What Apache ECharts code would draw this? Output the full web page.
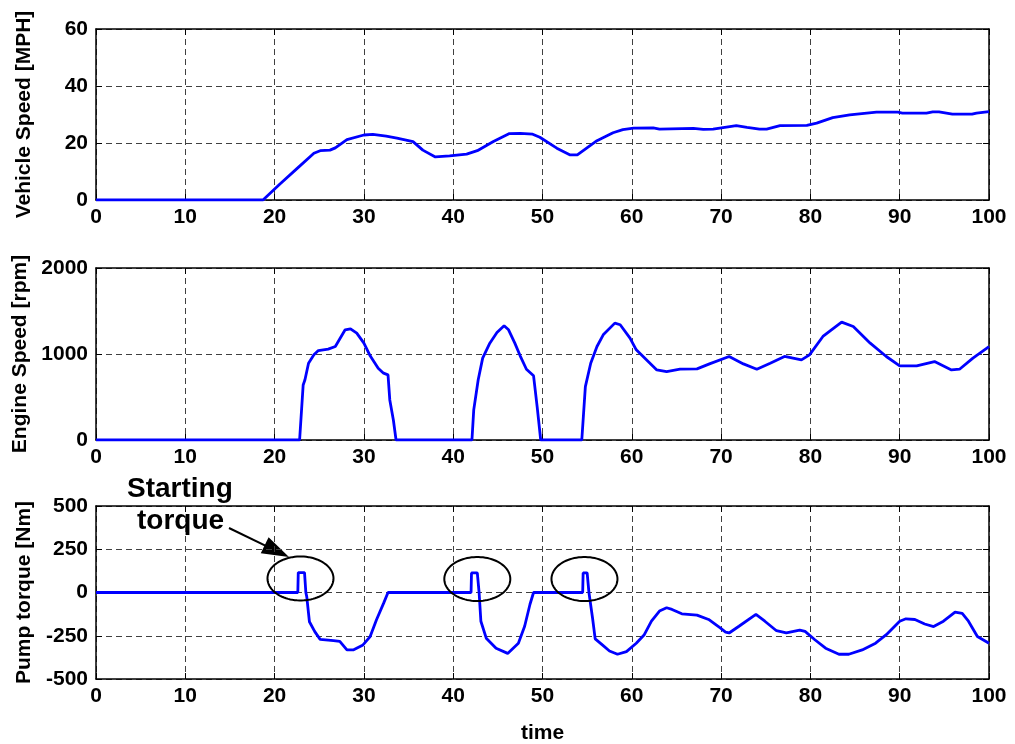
<!DOCTYPE html>
<html>
<head>
<meta charset="utf-8">
<script src="https://cdn.jsdelivr.net/npm/echarts@6/dist/echarts.min.js"></script>
<style>
  html, body { margin: 0; padding: 0; background: #fff; }
  #chart { width: 1015px; height: 744px; }
</style>
</head>
<body>
<div id="chart"></div>
<script>
// Vehicle speed [MPH] over time
const vehTime  = [0, 18.7, 20.6, 22.5, 24.4, 25.1, 26.2, 26.8, 28.1, 30, 31, 32.5, 33.7, 35.5, 36.6, 38, 39.6, 41.5, 42.7, 44.5, 46.3, 47.5, 48.9, 49.7, 51.6, 53.1, 53.9, 56.1, 57.9, 59, 60.2, 62.4, 63.1, 66.9, 68, 69.1, 70.6, 71.7, 72.9, 74.3, 75.1, 76.6, 79.6, 80.7, 82.5, 84.4, 87.4, 89.8, 90.3, 93, 93.7, 94.4, 95.9, 98.1, 98.6, 100];
const vehSpeed = [0, 0, 5.6, 11, 16.4, 17.3, 17.5, 18.3, 21.2, 22.8, 23, 22.4, 21.7, 20.5, 17.5, 15.1, 15.5, 16.1, 17.3, 20.5, 23.3, 23.4, 23.1, 22, 18.2, 15.8, 15.8, 20.8, 23.6, 24.7, 25.2, 25.3, 24.9, 25.1, 24.8, 24.9, 25.6, 26.1, 25.5, 24.9, 24.9, 26.1, 26.2, 27, 28.9, 29.9, 30.8, 30.8, 30.5, 30.5, 30.9, 30.9, 30.1, 30.1, 30.5, 31];

// Engine speed [rpm] over time
const engTime  = [0, 22.8, 23.2, 23.4, 23.8, 24.4, 24.9, 26.0, 26.8, 27.9, 28.5, 29.2, 30.0, 30.7, 31.6, 32.2, 32.7, 32.9, 33.3, 33.6, 42.1, 42.3, 42.8, 43.3, 44.1, 44.9, 45.7, 46.2, 46.9, 47.5, 48.2, 49.0, 49.4, 49.8, 54.4, 54.8, 55.4, 56.1, 56.8, 58.1, 58.7, 59.8, 60.5, 62.8, 63.9, 65.4, 67.3, 68.7, 70.9, 72.5, 74.0, 75.5, 77.1, 79.0, 79.9, 81.4, 83.5, 84.8, 86.7, 88.5, 90.0, 91.9, 93.9, 95.8, 96.7, 98.2, 100];
const engSpeed = [0, 0, 640, 700, 893, 990, 1040, 1056, 1087, 1281, 1293, 1243, 1127, 979, 835, 777, 757, 466, 233, 0, 0, 350, 700, 952, 1126, 1250, 1328, 1281, 1126, 979, 823, 746, 388, 0, 0, 621, 893, 1087, 1223, 1359, 1340, 1185, 1048, 815, 796, 823, 827, 885, 971, 885, 823, 893, 971, 932, 990, 1204, 1371, 1320, 1126, 971, 862, 862, 912, 815, 823, 952, 1087];

// Pump torque [Nm] over time
const pumpTime   = [0, 22.6, 22.65, 23.35, 23.5, 23.6, 23.9, 24.5, 25.1, 26.6, 27.3, 28.1, 28.8, 29.9, 30.7, 31.4, 32.2, 32.7, 42.0, 42.05, 42.7, 42.9, 43.1, 43.7, 44.8, 46.1, 47.3, 48.0, 48.6, 49.0, 54.5, 54.55, 55.0, 55.2, 55.6, 55.9, 56.7, 57.5, 58.4, 59.4, 60.5, 61.4, 62.2, 63.1, 63.9, 64.5, 65.6, 67.3, 68.6, 69.9, 70.5, 70.9, 72.0, 73.9, 74.9, 76.2, 77.3, 78.8, 79.4, 80.5, 81.7, 83.2, 84.3, 85.8, 87.3, 88.5, 90.0, 90.7, 91.7, 92.8, 93.8, 94.9, 96.2, 97.0, 97.7, 98.7, 100];
const pumpTorque = [0, 0, 115, 115, 0, -24, -169, -226, -271, -278, -283, -332, -332, -303, -255, -159, -63, 0, 0, 113, 113, 0, -166, -264, -322, -352, -293, -195, -68, 0, 0, 113, 113, 0, -146, -268, -303, -338, -357, -342, -293, -244, -166, -107, -88, -98, -123, -131, -156, -205, -229, -234, -195, -127, -166, -221, -234, -217, -225, -273, -322, -357, -357, -332, -293, -244, -166, -152, -156, -182, -197, -166, -113, -121, -166, -254, -293];

// Engine start events (ringed in the torque panel)
const startTime   = [22.9, 42.7, 54.7];
const startTorque = [81, 78, 78];

// Axis ticks
const timeTicks   = [0, 10, 20, 30, 40, 50, 60, 70, 80, 90, 100];
const speedTicks  = [0, 20, 40, 60];
const rpmTicks    = [0, 1000, 2000];
const torqueTicks = [-500, -250, 0, 250, 500];

const zip = (xs, ys) => xs.map((x, i) => [x, ys[i]]);

const FONT = '"Liberation Sans", Arial, Helvetica, sans-serif';
const gridLine = { show: true, lineStyle: { color: '#404040', width: 1, type: [6, 4] } };
const boxLine = { show: true, onZero: false, lineStyle: { color: '#000', width: 1.5 } };
const tickIn = { show: true, inside: true, length: 6, lineStyle: { color: '#000', width: 1 } };
const tickFont = { color: '#000', fontFamily: FONT, fontWeight: 'bold', fontSize: 21, formatter: v => String(v) };
const nameFont = { color: '#000', fontFamily: FONT, fontWeight: 'bold', fontSize: 21 };

const panels = [
  { top: 29,  height: 171, ticks: speedTicks,  name: 'Vehicle Speed [MPH]' },
  { top: 268, height: 172, ticks: rpmTicks,    name: 'Engine Speed [rpm]' },
  { top: 506, height: 173, ticks: torqueTicks, name: 'Pump torque [Nm]' }
];

const grid = [], xAxis = [], yAxis = [];
panels.forEach((p, i) => {
  grid.push({ left: 96, width: 893, top: p.top, height: p.height, show: false, containLabel: false, outerBoundsMode: 'none' });
  const tMin = timeTicks[0], tMax = timeTicks[timeTicks.length - 1];
  const yMin = p.ticks[0], yMax = p.ticks[p.ticks.length - 1];
  const yInt = p.ticks[1] - p.ticks[0];
  xAxis.push({
    type: 'value', gridIndex: i, position: 'bottom', min: tMin, max: tMax, interval: timeTicks[1] - timeTicks[0],
    axisLine: boxLine, axisTick: tickIn, splitLine: gridLine,
    axisLabel: Object.assign({ margin: 7 }, tickFont),
    name: i === 2 ? 'time' : '', nameLocation: 'middle', nameGap: 44, nameTextStyle: nameFont
  });
  xAxis.push({
    type: 'value', gridIndex: i, position: 'top', min: tMin, max: tMax, interval: timeTicks[1] - timeTicks[0],
    axisLine: boxLine, axisTick: tickIn, splitLine: { show: false }, axisLabel: { show: false }
  });
  yAxis.push({
    type: 'value', gridIndex: i, position: 'left', min: yMin, max: yMax, interval: yInt,
    axisLine: boxLine, axisTick: tickIn, splitLine: gridLine,
    axisLabel: Object.assign({ margin: 8 }, tickFont),
    name: p.name, nameLocation: 'middle', nameGap: 61, nameTextStyle: nameFont
  });
  yAxis.push({
    type: 'value', gridIndex: i, position: 'right', min: yMin, max: yMax, interval: yInt,
    axisLine: boxLine, axisTick: tickIn, splitLine: { show: false }, axisLabel: { show: false }
  });
});

const lineSeries = (idx, data) => ({
  type: 'line', xAxisIndex: idx * 2, yAxisIndex: idx * 2, data,
  showSymbol: false, symbol: 'none', smooth: false,
  lineStyle: { color: '#0000ff', width: 2.8 }, z: 5
});

// Ellipse ring drawn around each start spike
function renderRing(params, api) {
  const c = api.coord([api.value(0), api.value(1)]);
  const rx = 33, ry = 22, pts = [];
  for (let k = 0; k < 90; k++) {
    const a = (k / 90) * Math.PI * 2;
    pts.push([c[0] + rx * Math.cos(a), c[1] + ry * Math.sin(a)]);
  }
  return { type: 'polygon', shape: { points: pts }, style: { fill: 'none', stroke: '#000', lineWidth: 2 } };
}

// Annotation arrow pointing at the first ring
const arrowFrom = [229, 528], arrowTo = [289, 557];
function arrowHead(from, to, len, half) {
  const dx = to[0] - from[0], dy = to[1] - from[1];
  const L = Math.hypot(dx, dy), ux = dx / L, uy = dy / L;
  const bx = to[0] - ux * len, by = to[1] - uy * len;
  return [[to[0], to[1]], [bx - uy * half, by + ux * half], [bx + uy * half, by - ux * half]];
}
const head = arrowHead(arrowFrom, arrowTo, 27, 9);
const shaftEnd = [arrowTo[0] - (arrowTo[0] - arrowFrom[0]) * 0.3, arrowTo[1] - (arrowTo[1] - arrowFrom[1]) * 0.3];

const chart = echarts.init(document.getElementById('chart'), null, { renderer: 'canvas' });
chart.setOption({
  animation: false,
  backgroundColor: '#fff',
  grid, xAxis, yAxis,
  series: [
    lineSeries(0, zip(vehTime, vehSpeed)),
    lineSeries(1, zip(engTime, engSpeed)),
    lineSeries(2, zip(pumpTime, pumpTorque)),
    {
      type: 'custom', xAxisIndex: 4, yAxisIndex: 4,
      data: zip(startTime, startTorque), renderItem: renderRing, z: 6, silent: true
    }
  ],
  graphic: [
    { type: 'text', left: 182 - 55, top: 475, style: { text: 'Starting', fill: '#000', font: 'bold 28px ' + FONT } },
    { type: 'text', left: 182 - 45, top: 507, style: { text: 'torque', fill: '#000', font: 'bold 28px ' + FONT } },
    { type: 'line', shape: { x1: arrowFrom[0], y1: arrowFrom[1], x2: shaftEnd[0], y2: shaftEnd[1] }, style: { stroke: '#000', lineWidth: 2 } },
    { type: 'polygon', shape: { points: head }, style: { fill: '#000' } }
  ]
});
</script>
</body>
</html>
